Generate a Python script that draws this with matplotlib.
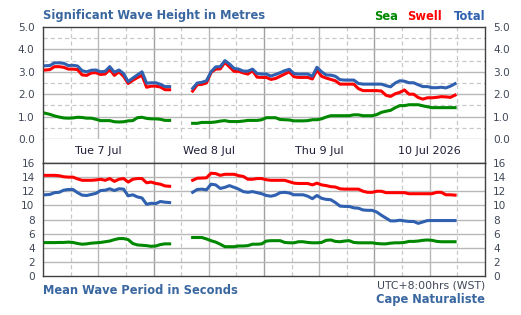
import numpy as np
import matplotlib
matplotlib.use("Agg")
import matplotlib.pyplot as plt

nan = float("nan")

# hours since Tue 7 Jul 00:00 (hourly, half-hour stamps)
hours = np.arange(0.5, 90.0, 1.0)
gap = [nan] * 4

height_total = [3.27,3.28,3.40,3.40,3.38,3.28,3.29,3.26,3.05,3.00,3.07,3.08,3.00,3.02,3.23,2.98,3.08,2.92,2.56,2.72,2.86,3.00,2.49,2.51,2.51,2.44,2.34,2.34] + gap + \
    [2.26,2.50,2.53,2.60,3.00,3.22,3.23,3.50,3.35,3.15,3.12,3.03,3.03,3.12,2.92,2.90,2.90,2.81,2.88,2.96,3.05,3.11,2.92,2.90,2.90,2.90,2.80,3.20,3.00,2.86,2.85,2.80,2.65,2.63,2.63,2.63,2.48,2.45,2.45,2.45,2.45,2.45,2.38,2.33,2.50,2.60,2.58,2.51,2.51,2.42,2.34,2.34,2.29,2.29,2.31,2.28,2.36,2.47]
height_swell = [3.08,3.10,3.23,3.23,3.20,3.12,3.12,3.10,2.86,2.84,2.95,2.96,2.88,2.90,3.11,2.84,3.00,2.80,2.48,2.62,2.74,2.84,2.31,2.36,2.36,2.32,2.20,2.20] + gap + \
    [2.14,2.42,2.44,2.50,2.97,3.12,3.13,3.42,3.22,3.02,3.02,2.95,2.90,3.05,2.76,2.75,2.75,2.66,2.70,2.80,2.90,3.00,2.78,2.75,2.75,2.75,2.68,3.08,2.80,2.72,2.66,2.60,2.45,2.45,2.45,2.45,2.25,2.16,2.16,2.16,2.16,2.14,1.95,1.90,2.02,2.08,2.19,2.00,2.00,1.85,1.78,1.84,1.84,1.86,1.89,1.88,1.86,1.96]
height_sea = [1.15,1.10,1.03,0.98,0.94,0.93,0.94,0.97,0.96,0.93,0.93,0.88,0.82,0.82,0.82,0.77,0.76,0.77,0.81,0.82,0.95,0.97,0.92,0.90,0.90,0.88,0.83,0.83] + gap + \
    [0.70,0.70,0.74,0.74,0.74,0.76,0.80,0.82,0.78,0.78,0.78,0.80,0.83,0.83,0.83,0.86,0.95,0.95,0.95,0.87,0.86,0.85,0.81,0.81,0.81,0.82,0.86,0.86,0.90,0.98,1.04,1.04,1.04,1.04,1.04,1.08,1.08,1.04,1.04,1.04,1.09,1.19,1.24,1.28,1.40,1.49,1.49,1.53,1.53,1.53,1.48,1.44,1.40,1.40,1.40,1.40,1.40,1.40]

period_swell = [14.25,14.25,14.25,14.20,14.05,14.00,14.00,13.75,13.55,13.55,13.55,13.60,13.70,13.55,13.80,13.40,13.70,13.80,13.30,13.70,13.80,13.80,13.20,13.30,13.10,13.00,12.75,12.70] + gap + \
    [13.55,13.85,13.87,13.90,14.55,14.50,14.25,14.40,14.40,14.40,14.20,14.10,13.70,13.70,13.80,13.80,13.63,13.55,13.55,13.55,13.55,13.35,13.15,13.10,13.10,13.10,12.90,13.15,12.90,12.80,12.65,12.60,12.35,12.30,12.30,12.30,12.30,12.00,11.85,11.85,12.00,12.00,11.80,11.80,11.80,11.80,11.80,11.65,11.65,11.65,11.65,11.65,11.65,11.85,11.85,11.50,11.50,11.45]
period_total = [11.50,11.55,11.80,11.85,12.15,12.25,12.25,11.80,11.45,11.40,11.55,11.70,12.10,12.15,12.35,12.10,12.35,12.30,11.35,11.50,11.20,11.05,10.15,10.30,10.25,10.55,10.45,10.40] + gap + \
    [11.85,12.25,12.30,12.20,13.00,12.90,12.40,12.55,12.80,12.55,12.30,11.95,11.85,11.95,11.80,11.65,11.40,11.30,11.45,11.80,11.85,11.75,11.50,11.50,11.50,11.30,10.95,11.40,11.00,10.85,10.80,10.40,9.90,9.85,9.85,9.65,9.60,9.35,9.30,9.30,9.05,8.60,8.20,7.80,7.80,7.90,7.80,7.72,7.72,7.45,7.65,7.85,7.85,7.85,7.85,7.85,7.85,7.85]
period_sea = [4.73,4.73,4.73,4.75,4.75,4.80,4.75,4.60,4.50,4.55,4.65,4.70,4.75,4.85,4.95,5.15,5.30,5.30,5.15,4.60,4.40,4.35,4.30,4.20,4.25,4.45,4.55,4.55] + gap + \
    [5.45,5.45,5.45,5.25,5.00,4.80,4.50,4.15,4.15,4.15,4.25,4.25,4.30,4.50,4.50,4.55,4.95,5.00,5.00,5.00,4.75,4.70,4.70,4.85,4.85,4.75,4.70,4.70,4.75,5.05,5.10,4.90,4.85,4.95,5.00,4.75,4.70,4.70,4.70,4.70,4.60,4.55,4.55,4.65,4.70,4.70,4.75,4.90,4.90,4.95,5.05,5.10,5.05,4.90,4.85,4.85,4.85,4.85]

day_labels = ["Tue 7 Jul", "Wed 8 Jul", "Thu 9 Jul", "10 Jul 2026"]
height_ticks = [0, 1, 2, 3, 4, 5]
period_ticks = [0, 2, 4, 6, 8, 10, 12, 14, 16]

C_SEA, C_SWELL, C_TOTAL = "#008800", "#ff0000", "#3060b0"
C_TITLE = "#3a67a0"
C_TICK = "#404858"
C_FRAME = "#404040"
C_MID = "#a0a0a0"
C_NOON = "#b8b8b8"
C_DASH = "#c8c8c8"

plt.rcParams["font.family"] = ["DejaVu Sans"]
plt.rcParams["lines.scale_dashes"] = False

W, H = 521, 315
fig = plt.figure(figsize=(W / 100, H / 100), dpi=100)
fig.patch.set_facecolor("white")

def frac(x0, y0, x1, y1):
    return [x0 / W, 1 - y1 / H, (x1 - x0) / W, (y1 - y0) / H]

ax1 = fig.add_axes(frac(43, 27, 485, 139))
axs = fig.add_axes(frac(43, 139, 485, 163))
ax2 = fig.add_axes(frac(43, 163, 485, 276))

DASH = (0, (3.0, 2.2))
for ax in (ax1, axs, ax2):
    ax.set_xlim(0, 96)
    ax.set_xticks([])
    for s in ax.spines.values():
        s.set_color(C_FRAME)
        s.set_linewidth(1.0)

# vertical grid
for h in range(6, 96, 6):
    for ax in (ax1, ax2):
        if h % 24 == 0:
            ax.axvline(h, color=C_MID, lw=1.0, zorder=1)
        elif h % 12 == 0:
            ax.axvline(h, color=C_NOON, lw=1.0, zorder=1)
        else:
            ax.axvline(h, color=C_DASH, lw=0.9, ls=DASH, zorder=1)
    if h % 24 == 0:
        axs.axvline(h, color=C_MID, lw=1.0, zorder=1)

# top panel
ax1.set_ylim(0, 5)
for v in np.arange(0.5, 5.0, 0.5):
    if abs(v - round(v)) < 1e-6:
        ax1.axhline(v, color=C_NOON, lw=1.0, zorder=1)
    else:
        ax1.axhline(v, color=C_DASH, lw=0.9, ls=DASH, zorder=1)
ax1.spines["bottom"].set_color(C_NOON)
ax1.plot(hours, height_sea, color=C_SEA, lw=2.2, zorder=3)
ax1.plot(hours, height_swell, color=C_SWELL, lw=2.2, zorder=3)
ax1.plot(hours, height_total, color=C_TOTAL, lw=2.2, zorder=4)
ax1.set_yticks(height_ticks)
ax1.set_yticklabels([f"{v:.1f}" for v in height_ticks])

# strip
axs.set_ylim(0, 1)
axs.set_yticks([])
axs.spines["top"].set_visible(False)
for i, lab in enumerate(day_labels):
    axs.text(12 + 24 * i, 0.5, lab, ha="center", va="center", fontsize=8.0, color="#1e1e38")

# bottom panel
ax2.set_ylim(0, 16)
for v in range(2, 16, 2):
    ax2.axhline(v, color=C_NOON, lw=1.0, zorder=1)
ax2.plot(hours, period_sea, color=C_SEA, lw=2.2, zorder=3)
ax2.plot(hours, period_swell, color=C_SWELL, lw=2.2, zorder=3)
ax2.plot(hours, period_total, color=C_TOTAL, lw=2.2, zorder=4)
ax2.set_yticks(period_ticks)
ax2.set_yticklabels([str(v) for v in period_ticks])

for ax in (ax1, ax2):
    ax.tick_params(axis="y", length=0, labelleft=True, labelright=True,
                   labelsize=7.6, labelcolor=C_TICK, pad=6)

# titles and texts
fig.text(43 / W, 1 - 16 / H, "Significant Wave Height in Metres", ha="left", va="center",
         fontsize=8.3, fontweight="bold", color=C_TITLE)
fig.text(43 / W, 1 - 290 / H, "Mean Wave Period in Seconds", ha="left", va="center",
         fontsize=8.3, fontweight="bold", color=C_TITLE)
fig.text(485 / W, 1 - 285 / H, "UTC+8:00hrs (WST)", ha="right", va="center",
         fontsize=7.8, color="#404858")
fig.text(485 / W, 1 - 299 / H, "Cape Naturaliste", ha="right", va="center",
         fontsize=8.3, fontweight="bold", color=C_TITLE)

fig.text(485 / W, 1 - 16 / H, "Total", ha="right", va="center", fontsize=8.3,
         fontweight="bold", color=C_TOTAL)
fig.text(442 / W, 1 - 16 / H, "Swell", ha="right", va="center", fontsize=8.3,
         fontweight="bold", color=C_SWELL)
fig.text(398 / W, 1 - 16 / H, "Sea", ha="right", va="center", fontsize=8.3,
         fontweight="bold", color=C_SEA)

fig.savefig("out.png", dpi=100, facecolor="white")
